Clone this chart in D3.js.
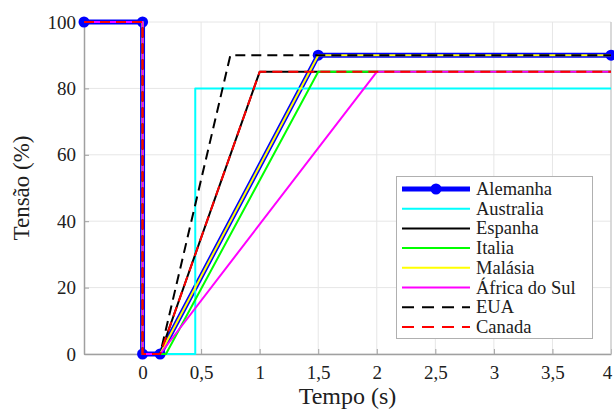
<!DOCTYPE html>
<html><head><meta charset="utf-8">
<script src="https://cdn.jsdelivr.net/npm/d3@7"></script>
<style>body{margin:0;background:#fff}svg{display:block}svg text{font-family:"Liberation Serif","DejaVu Serif","Times New Roman",serif}</style>
</head><body>
<svg id="c" width="614" height="409"></svg>
<script>
const seriesNames = ["Alemanha","Australia","Espanha","Italia","Malásia","África do Sul","EUA","Canada"];
const seriesColors = ["#0000ff","#00ffff","#000000","#00ff00","#ffff00","#ff00ff","#000000","#ff0000"];
const tAlemanha = [-0.5,0,0,0.15,1.5,4];   const vAlemanha = [100,100,0,0,90,90];
const tAustralia = [-0.5,0,0,0.45,0.45,4]; const vAustralia = [100,100,0,0,80,80];
const tEspanha = [-0.5,0,0,0.15,1.0,4];    const vEspanha = [100,100,0,0,85,85];
const tItalia = [-0.5,0,0,0.2,1.5,4];      const vItalia = [100,100,0,0,85,85];
const tMalasia = [-0.5,0,0,0.15,1.5,4];    const vMalasia = [100,100,0,0,90,90];
const tAfrica = [-0.5,0,0,0.15,2.0,4];     const vAfrica = [100,100,0,0,85,85];
const tEUA = [-0.5,0,0,0.15,0.75,4];       const vEUA = [100,100,0,0,90,90];
const tCanada = [-0.5,0,0,0.15,1.0,4];     const vCanada = [100,100,0,0,85,85];
const xTicks = [0,0.5,1,1.5,2,2.5,3,3.5,4];
const yTicks = [0,20,40,60,80,100];

const times = [tAlemanha,tAustralia,tEspanha,tItalia,tMalasia,tAfrica,tEUA,tCanada];
const vals = [vAlemanha,vAustralia,vEspanha,vItalia,vMalasia,vAfrica,vEUA,vCanada];
const widths = [5,2,2,2,2,2,2,2];
const dashes = [null,null,null,null,null,null,"10,6","10,6"];

const svg = d3.select("#c");
const L=84,R=611,T=22,B=354;
const x = d3.scaleLinear().domain([-0.5,4]).range([L,R]);
const y = d3.scaleLinear().domain([0,100]).range([B,T]);

svg.append("g").selectAll("line").data(xTicks).join("line")
  .attr("x1",d=>x(d)).attr("x2",d=>x(d)).attr("y1",T).attr("y2",B)
  .attr("stroke","#e6e6e6").attr("stroke-width",1);
svg.append("g").selectAll("line").data(yTicks).join("line")
  .attr("x1",L).attr("x2",R).attr("y1",d=>y(d)).attr("y2",d=>y(d))
  .attr("stroke","#e6e6e6").attr("stroke-width",1);

const fmt = d=>String(d).replace(".",",");
const xAxis = svg.append("g").attr("transform",`translate(0,${B})`)
  .call(d3.axisBottom(x).tickValues(xTicks).tickFormat(fmt).tickSizeInner(-5).tickSizeOuter(0).tickPadding(12));
const yAxis = svg.append("g").attr("transform",`translate(${L},0)`)
  .call(d3.axisLeft(y).tickValues(yTicks).tickSizeInner(-5).tickSizeOuter(0).tickPadding(8));
[xAxis,yAxis].forEach(a=>{
  a.attr("font-family",null).attr("font-size",null);
  a.select(".domain").attr("stroke","#a0a0a0").attr("stroke-width",1.5);
  a.selectAll(".tick line").attr("stroke","#a0a0a0");
  a.selectAll("text").attr("font-size",19).attr("fill","#202020");
});
xAxis.selectAll(".tick").filter(d=>d===4).select("text").attr("dx",-4);
svg.append("line").attr("x1",R).attr("x2",R).attr("y1",T).attr("y2",B).attr("stroke","#c8c8c8").attr("stroke-width",1.2);

const line = d3.line().x(d=>x(d[0])).y(d=>y(d[1]));
const gL = svg.append("g");
seriesNames.forEach((n,i)=>{
  const pts = times[i].map((t,j)=>[t,vals[i][j]]);
  gL.append("path").datum(pts).attr("d",line).attr("fill","none")
    .attr("stroke",seriesColors[i]).attr("stroke-width",widths[i])
    .attr("stroke-dasharray",dashes[i]).attr("stroke-linejoin","round");
  if(i===0){
    gL.selectAll("circle.m").data(pts).join("circle").attr("class","m")
      .attr("cx",d=>x(d[0])).attr("cy",d=>y(d[1])).attr("r",5.5).attr("fill","#0000ff");
  }
});

svg.append("text").attr("x",(L+R)/2).attr("y",404).attr("text-anchor","middle")
  .attr("font-size",24).attr("fill","#202020").text("Tempo (s)");
svg.append("text").attr("transform",`translate(29,${(T+B)/2}) rotate(-90)`).attr("text-anchor","middle")
  .attr("font-size",23).attr("fill","#202020").text("Tensão (%)");

const lg = svg.append("g");
lg.append("rect").attr("x",396.5).attr("y",176.5).attr("width",196).attr("height",162)
  .attr("fill","#fff").attr("stroke","#b0b0b0").attr("stroke-width",1);
seriesNames.forEach((n,i)=>{
  const yy = 189 + i*19.7;
  lg.append("line").attr("x1",402).attr("x2",470).attr("y1",yy).attr("y2",yy)
    .attr("stroke",seriesColors[i]).attr("stroke-width",i===0?5:2).attr("stroke-dasharray",dashes[i]?"12,8":null);
  if(i===0) lg.append("circle").attr("cx",436).attr("cy",yy).attr("r",5.5).attr("fill","#0000ff");
  lg.append("text").attr("x",476).attr("y",yy+6).attr("font-size",18.5)
    .attr("fill","#202020").text(n);
});
</script>
</body></html>
